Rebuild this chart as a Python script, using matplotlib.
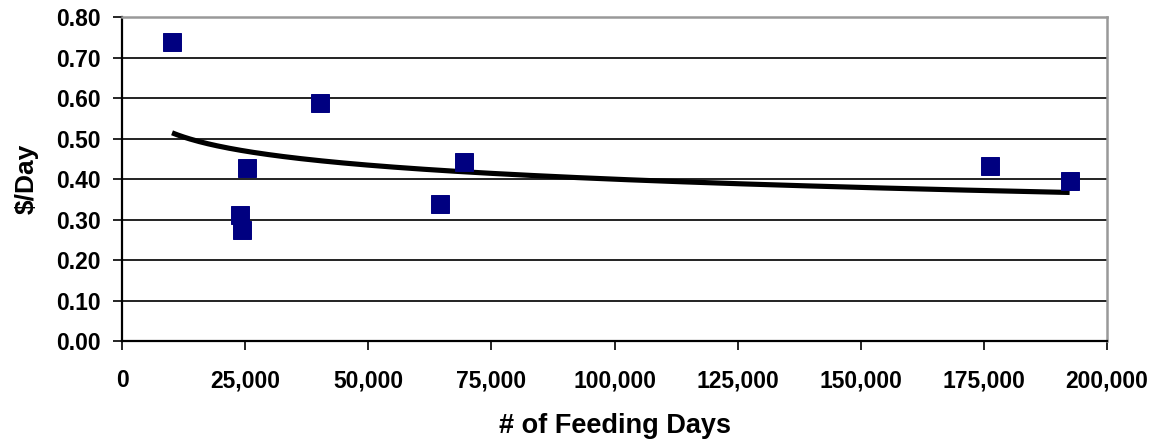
import numpy as np
import matplotlib
matplotlib.use("Agg")
import matplotlib.pyplot as plt
from matplotlib.ticker import FuncFormatter, MultipleLocator

# data
feeding_days = [10150, 24000, 24400, 25400, 40200, 64600, 69400, 176300, 192400]
cost_per_day = [0.738, 0.310, 0.275, 0.428, 0.587, 0.339, 0.441, 0.433, 0.395]

plt.rcParams["font.family"] = ["Liberation Sans", "DejaVu Sans"]
plt.rcParams["font.weight"] = "bold"

fig = plt.figure(figsize=(11.58, 4.42), dpi=100)
ax = fig.add_axes([0.1054, 0.2285, 0.8506, 0.733])

x = np.array(feeding_days, dtype=float)
y = np.array(cost_per_day, dtype=float)

# logarithmic trendline fitted to the points (as in the spreadsheet)
slope, icpt = np.polyfit(np.log(x), y, 1)
xs = np.linspace(x.min(), x.max(), 300)
ax.plot(xs, slope * np.log(xs) + icpt, color="black", lw=3.7, zorder=3,
        solid_capstyle="butt")

ax.plot(x, y, ls="none", marker="s", ms=13, mew=0.7, color="#000080",
        mec="#000080", zorder=4)

ax.set_xlim(0, 200000)
ax.set_ylim(0, 0.8)
ax.xaxis.set_major_locator(MultipleLocator(25000))
ax.yaxis.set_major_locator(MultipleLocator(0.1))
ax.xaxis.set_major_formatter(FuncFormatter(lambda v, _: f"{v:,.0f}"))
ax.yaxis.set_major_formatter(FuncFormatter(lambda v, _: f"{v:.2f}"))
ax.grid(axis="y", color="#222222", lw=1.4)
ax.set_axisbelow(True)

for side in ("top", "right"):
    ax.spines[side].set_color("#999999")
    ax.spines[side].set_linewidth(1.8)
for side in ("left", "bottom"):
    ax.spines[side].set_color("black")
    ax.spines[side].set_linewidth(1.6)

ax.tick_params(axis="both", direction="out", length=6.5, width=1.2, labelsize=16.5)
ax.tick_params(axis="x", pad=14)
ax.tick_params(axis="y", pad=9)

ax.set_xlabel("# of Feeding Days", fontsize=19.5, fontweight="bold", labelpad=15)
ax.set_ylabel("$/Day", fontsize=19, fontweight="bold", labelpad=12)

fig.savefig("out.png", dpi=100)
